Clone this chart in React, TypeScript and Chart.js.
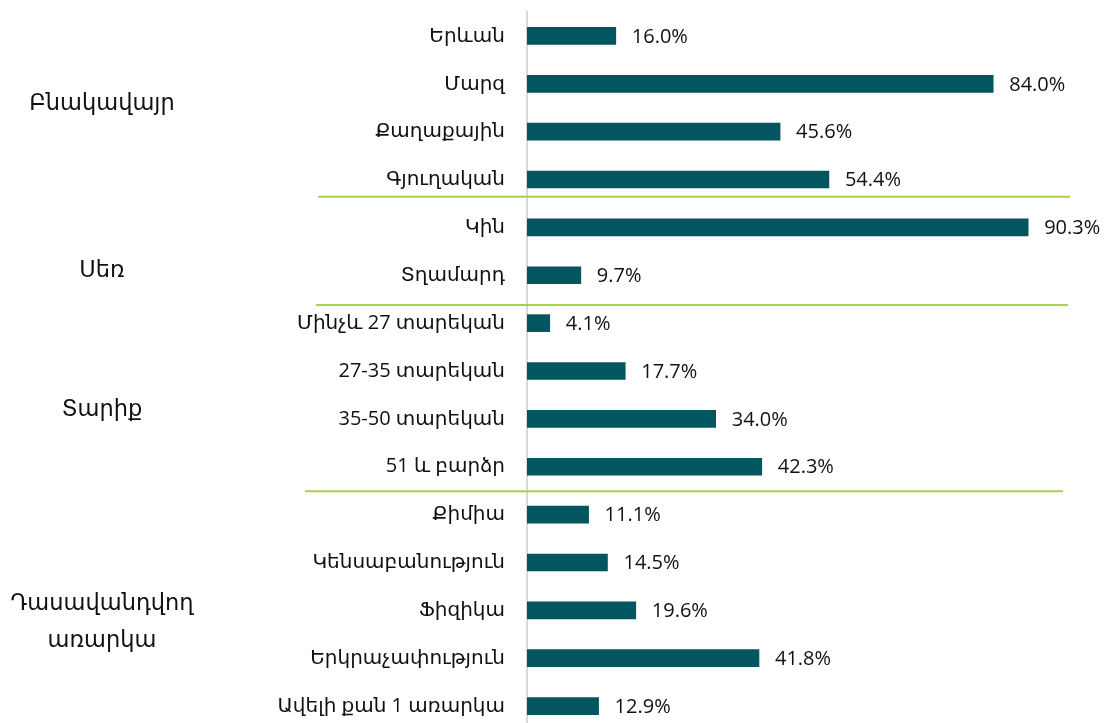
import React, { useEffect, useRef } from "react";
import { Chart, registerables } from "chart.js";

Chart.register(...registerables);

const categories: string[] = [
  "Երևան",
  "Մարզ",
  "Քաղաքային",
  "Գյուղական",
  "Կին",
  "Տղամարդ",
  "Մինչև 27 տարեկան",
  "27-35 տարեկան",
  "35-50 տարեկան",
  "51 և բարձր",
  "Քիմիա",
  "Կենսաբանություն",
  "Ֆիզիկա",
  "Երկրաչափություն",
  "Ավելի քան 1 առարկա",
];

const values: number[] = [16.0, 84.0, 45.6, 54.4, 90.3, 9.7, 4.1, 17.7, 34.0, 42.3, 11.1, 14.5, 19.6, 41.8, 12.9];

// group labels: text lines and their vertical position in category units
const groupLabels: { lines: string[]; at: number }[] = [
  { lines: ["Բնակավայր"], at: 1.42 },
  { lines: ["Սեռ"], at: 4.91 },
  { lines: ["Տարիք"], at: 7.81 },
  { lines: ["Դասավանդվող", "առարկա"], at: 12.25 },
];

// separator lines: position in category units, left/right pixel extents
const separators: { at: number; x1: number; x2: number }[] = [
  { at: 3.36, x1: 318, x2: 1070 },
  { at: 5.62, x1: 316, x2: 1068 },
  { at: 9.51, x1: 305, x2: 1063 },
];

const FONT = "'Open Sans', 'DejaVu Sans', sans-serif";
const TEXT = "#111111";

export default function App() {
  const ref = useRef<HTMLCanvasElement | null>(null);

  useEffect(() => {
    if (!ref.current) return;
    const overlay = {
      id: "overlay",
      afterDatasetsDraw(chart: any) {
        const ctx = chart.ctx;
        const xs = chart.scales.x;
        const ys = chart.scales.y;
        ctx.save();
        // value labels
        ctx.font = `20px ${FONT}`;
        ctx.fillStyle = TEXT;
        ctx.textAlign = "left";
        ctx.textBaseline = "middle";
        values.forEach((v, i) => {
          ctx.fillText(v.toFixed(1) + "%", xs.getPixelForValue(v) + 16, ys.getPixelForValue(i) + 1);
        });
        // separators
        ctx.strokeStyle = "#A9D04F";
        ctx.lineWidth = 2;
        separators.forEach((s) => {
          const y = ys.getPixelForValue(s.at);
          ctx.beginPath();
          ctx.moveTo(s.x1, y);
          ctx.lineTo(s.x2, y);
          ctx.stroke();
        });
        // group labels
        ctx.font = `22.5px ${FONT}`;
        ctx.fillStyle = TEXT;
        ctx.textAlign = "center";
        groupLabels.forEach((g) => {
          const yc = ys.getPixelForValue(g.at);
          const lh = 37;
          const start = yc - ((g.lines.length - 1) * lh) / 2;
          g.lines.forEach((l, k) => ctx.fillText(l, 102, start + k * lh));
        });
        ctx.restore();
      },
    };

    const chart = new Chart(ref.current, {
      type: "bar",
      data: {
        labels: categories,
        datasets: [
          {
            data: values,
            backgroundColor: "#03565F",
            borderWidth: 0,
            barThickness: 17,
          },
        ],
      },
      options: {
        indexAxis: "y",
        responsive: false,
        animation: false,
        layout: { padding: { top: 12, bottom: 10, right: 23, left: 0 } },
        plugins: { legend: { display: false }, tooltip: { enabled: false } },
        scales: {
          x: { display: false, min: 0, max: 100 },
          y: {
            grid: { display: false, drawTicks: false },
            border: { display: true, color: "#D9D9D9", width: 2 },
            ticks: {
              padding: 22,
              color: TEXT,
              font: { family: FONT, size: 20 },
            },
            afterFit(scale: any) {
              scale.width = 527;
              scale.paddingTop = 0;
              scale.paddingBottom = 0;
            },
          },
        },
      },
      plugins: [overlay],
    });
    return () => chart.destroy();
  }, []);

  return (
    <div style={{ position: "fixed", top: 0, left: 0, width: 1105, height: 723, overflow: "hidden", background: "#fff" }}>
      <canvas ref={ref} width={1105} height={740} style={{ display: "block" }} />
    </div>
  );
}
